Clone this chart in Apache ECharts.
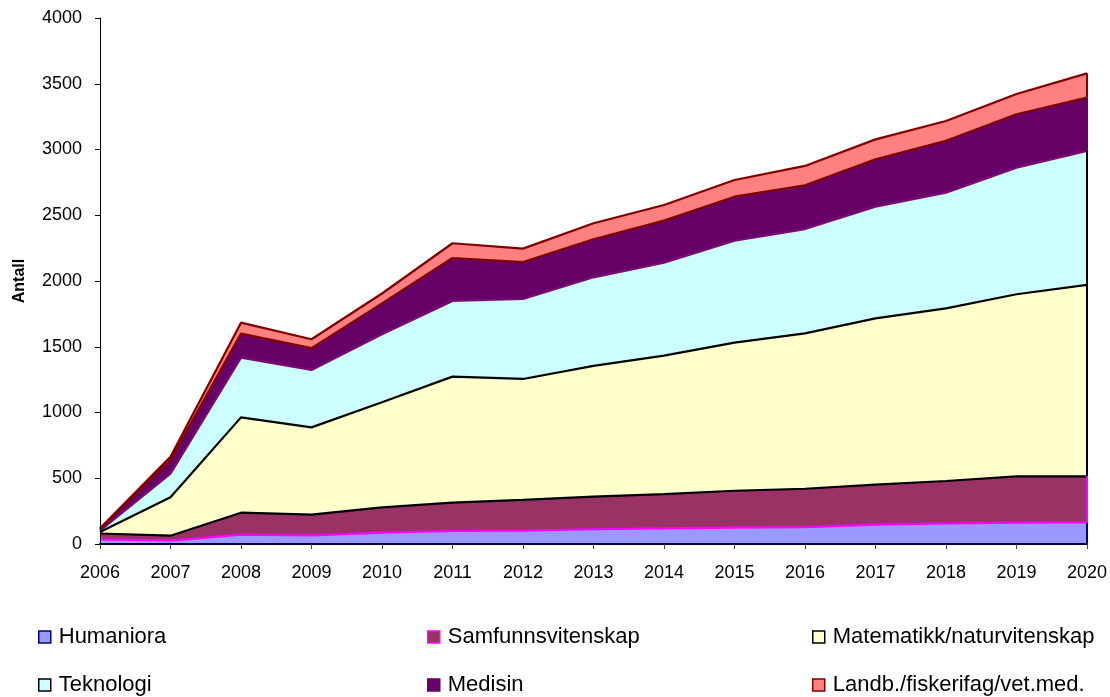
<!DOCTYPE html>
<html>
<head>
<meta charset="utf-8">
<script src="https://cdn.jsdelivr.net/npm/echarts@6/dist/echarts.min.js"></script>
<style>
  html, body { margin: 0; padding: 0; background: #fff; }
  #chart { width: 1110px; height: 697px; }
</style>
</head>
<body>
<div id="chart"></div>
<script>
// Years on the category axis
const years = ['2006','2007','2008','2009','2010','2011','2012','2013','2014','2015','2016','2017','2018','2019','2020'];

// Number per field and year (stacked)
const humaniora         = [35, 25, 71, 66, 86, 99, 101, 112, 119, 124, 129, 147, 157, 162, 165];
const samfunnsvitenskap = [45, 38, 167, 157, 193, 216, 234, 248, 261, 281, 291, 304, 322, 353, 350];
const matematikk        = [12, 292, 725, 664, 799, 958, 920, 994, 1052, 1126, 1182, 1265, 1313, 1384, 1455];
const teknologi         = [10, 180, 454, 436, 517, 575, 608, 674, 707, 775, 793, 849, 880, 963, 1019];
const medisin           = [8, 105, 183, 167, 235, 327, 281, 289, 320, 335, 333, 360, 395, 406, 405];
const landbruk          = [10, 24, 83, 67, 75, 112, 102, 122, 119, 127, 147, 152, 150, 154, 185];

const yTicks = { min: 0, max: 4000, interval: 500 };

const FONT = '"Liberation Sans", Arial, sans-serif';

const fields = [
  { name: 'Humaniora',                   data: humaniora,         fill: '#9999FF', border: '#000080', top: '#FF00FF' },
  { name: 'Samfunnsvitenskap',           data: samfunnsvitenskap, fill: '#993366', border: '#FF00FF', top: '#000000' },
  { name: 'Matematikk/naturvitenskap',   data: matematikk,        fill: '#FFFFCC', border: '#000000', top: '#000000' },
  { name: 'Teknologi',                   data: teknologi,         fill: '#CCFFFF', border: '#000000', top: '#7A0A7A' },
  { name: 'Medisin',                     data: medisin,           fill: '#660066', border: '#660066', top: '#800000' },
  { name: 'Landb./fiskerifag/vet.med.',  data: landbruk,          fill: '#FF8080', border: '#800000', top: '#800000' }
];

// running totals, used for the right-hand closing edge of each band
const last = years.length - 1;
let base = 0;
fields.forEach(f => {
  f.lo = base;
  f.hi = base + f.data[last];
  base = f.hi;
});

const areaSeries = fields.map(f => ({
  name: f.name,
  type: 'line',
  stack: 'areas',
  data: f.data,
  symbol: 'none',
  lineStyle: { width: 0, opacity: 0 },
  areaStyle: { color: f.fill, opacity: 1 },
  itemStyle: { color: f.fill },
  z: 2,
  silent: true,
  markLine: {
    silent: true,
    symbol: 'none',
    label: { show: false },
    lineStyle: { color: f.border, width: 2, type: 'solid' },
    data: [[{ coord: [years[last], f.lo] }, { coord: [years[last], f.hi] }]]
  }
}));

const edgeSeries = fields.map(f => ({
  name: f.name,
  type: 'line',
  stack: 'edges',
  data: f.data,
  symbol: 'none',
  lineStyle: { color: f.top, width: 2.2 },
  itemStyle: { color: f.fill },
  z: 4,
  silent: true
}));

const cols = [38, 427, 812];
const rows = [626, 674];
const legends = fields.map((f, i) => ({
  left: cols[i % 3],
  top: rows[Math.floor(i / 3)],
  padding: 0,
  icon: 'rect',
  itemWidth: 12,
  itemHeight: 12,
  selectedMode: false,
  textStyle: { fontFamily: FONT, fontSize: 22, color: '#000', padding: [0, 0, 0, 3] },
  data: [{ name: f.name, itemStyle: { color: f.fill, borderColor: f.border, borderWidth: 1.5 } }]
}));

const chart = echarts.init(document.getElementById('chart'), null, { renderer: 'canvas' });
chart.setOption({
  animation: false,
  backgroundColor: '#fff',
  legend: legends,
  grid: { left: 100, right: 23, top: 18, bottom: 153, containLabel: false },
  xAxis: {
    type: 'category',
    data: years,
    boundaryGap: false,
    axisLine: { lineStyle: { color: '#000040', width: 2 } },
    axisTick: { show: true, length: 5, inside: false, lineStyle: { color: '#444' } },
    axisLabel: { fontFamily: FONT, fontSize: 18, color: '#000', margin: 20 },
    splitLine: { show: false },
    z: 5
  },
  yAxis: {
    type: 'value',
    min: yTicks.min,
    max: yTicks.max,
    interval: yTicks.interval,
    name: 'Antall',
    nameLocation: 'middle',
    nameGap: 72,
    nameTextStyle: { fontFamily: FONT, fontSize: 16, fontWeight: 'bold', color: '#000' },
    axisLine: { show: true, lineStyle: { color: '#000', width: 1 } },
    axisTick: { show: true, length: 5, lineStyle: { color: '#000' } },
    axisLabel: { fontFamily: FONT, fontSize: 18, color: '#000', margin: 18, formatter: v => String(v) },
    splitLine: { show: false },
    z: 5
  },
  series: areaSeries.concat(edgeSeries)
});
</script>
</body>
</html>
